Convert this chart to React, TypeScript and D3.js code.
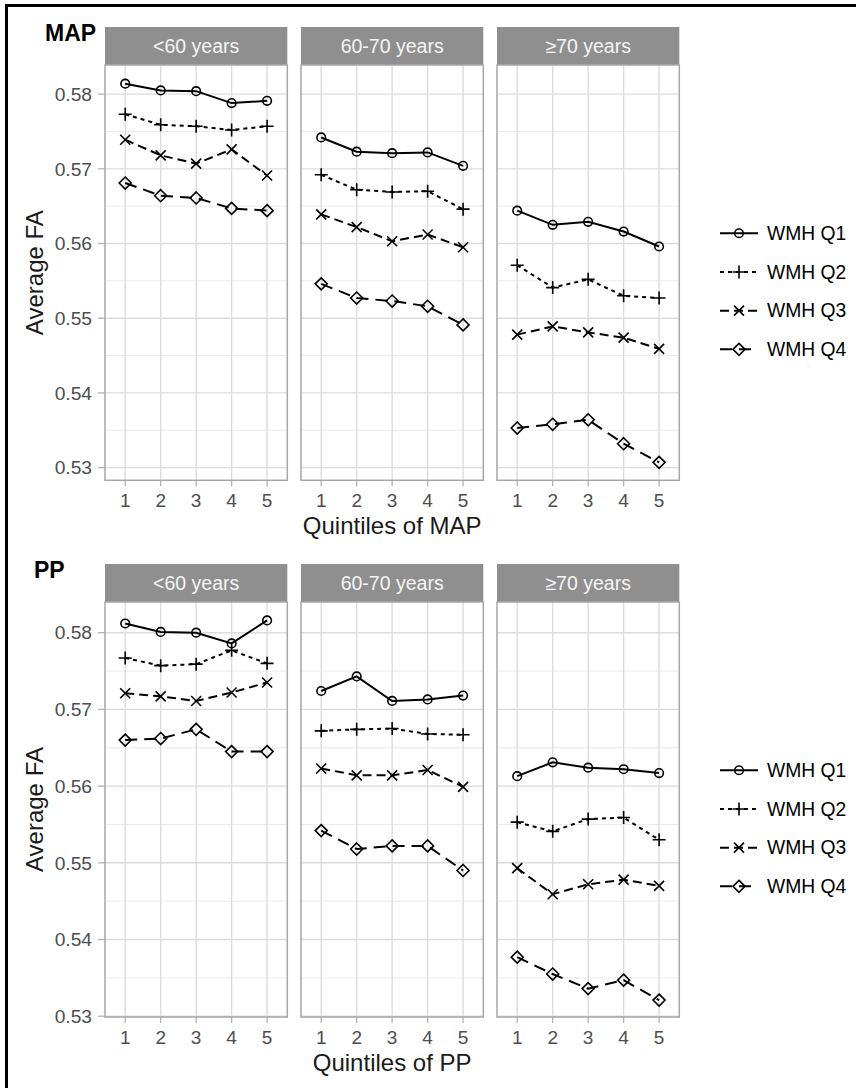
import React from "react";
import * as d3 from "d3";

const ageGroups = ["<60 years", "60-70 years", "≥70 years"];
const quintiles = [1, 2, 3, 4, 5];
const wmhLabels = ["WMH Q1", "WMH Q2", "WMH Q3", "WMH Q4"];
const yTicks = [0.53, 0.54, 0.55, 0.56, 0.57, 0.58];
const yMinor = [0.535, 0.545, 0.555, 0.565, 0.575];

// MAP, one row per WMH quartile
const mapUnder60 = [
  [0.5814, 0.5805, 0.5804, 0.5788, 0.5791],
  [0.5773, 0.5759, 0.5757, 0.5752, 0.5757],
  [0.5739, 0.5718, 0.5707, 0.5726, 0.5691],
  [0.5681, 0.5664, 0.5661, 0.5647, 0.5644]
];
const map60to70 = [
  [0.5742, 0.5723, 0.5721, 0.5722, 0.5704],
  [0.5692, 0.5672, 0.5669, 0.567, 0.5646],
  [0.5639, 0.5622, 0.5603, 0.5612, 0.5595],
  [0.5546, 0.5527, 0.5523, 0.5516, 0.5491]
];
const mapOver70 = [
  [0.5644, 0.5625, 0.5629, 0.5616, 0.5596],
  [0.5571, 0.5541, 0.5552, 0.553, 0.5527],
  [0.5478, 0.5489, 0.5481, 0.5474, 0.5459],
  [0.5353, 0.5358, 0.5364, 0.5332, 0.5307]
];

// PP
const ppUnder60 = [
  [0.5812, 0.5801, 0.58, 0.5786, 0.5816],
  [0.5767, 0.5757, 0.5759, 0.5777, 0.576],
  [0.5721, 0.5717, 0.5711, 0.5722, 0.5735],
  [0.566, 0.5662, 0.5674, 0.5645, 0.5645]
];
const pp60to70 = [
  [0.5724, 0.5743, 0.5711, 0.5713, 0.5718],
  [0.5672, 0.5674, 0.5675, 0.5668, 0.5667],
  [0.5623, 0.5614, 0.5614, 0.5621, 0.5599],
  [0.5542, 0.5518, 0.5522, 0.5522, 0.549]
];
const ppOver70 = [
  [0.5613, 0.5631, 0.5624, 0.5622, 0.5617],
  [0.5553, 0.5541, 0.5557, 0.5559, 0.553],
  [0.5493, 0.5459, 0.5472, 0.5478, 0.547],
  [0.5377, 0.5355, 0.5336, 0.5347, 0.5321]
];

const FONT = "'Liberation Sans', Arial, sans-serif";
const dashes = [null, "4,4", "9,5", "12,7"];

const panelX0 = 105;
const panelW = 182.3;
const panelGap = 13.7;

function Marker({ kind, x, y }: { kind: number; x: number; y: number }) {
  const common = { fill: "none", stroke: "#000", strokeWidth: 1.6 };
  if (kind === 0) return <circle cx={x} cy={y} r={4.3} {...common} />;
  if (kind === 1)
    return <path d={`M${x - 6.5},${y}H${x + 6.5}M${x},${y - 6.5}V${y + 6.5}`} {...common} />;
  if (kind === 2)
    return (
      <path d={`M${x - 5},${y - 5}L${x + 5},${y + 5}M${x - 5},${y + 5}L${x + 5},${y - 5}`} {...common} />
    );
  return <path d={`M${x},${y - 6}L${x + 6},${y}L${x},${y + 6}L${x - 6},${y}Z`} {...common} />;
}

function Block({
  title, titleX, top, bottom, domain, groups, xTitle, legendMid
}: {
  title: string; titleX: number; top: number; bottom: number; domain: [number, number];
  groups: number[][][]; xTitle: string; legendMid: number;
}) {
  const stripH = 38;
  const plotTop = top + stripH;
  const y = d3.scaleLinear().domain(domain).range([bottom, plotTop]);
  const midY = (plotTop + bottom) / 2;
  const panelsMid = panelX0 + (3 * panelW + 2 * panelGap) / 2;

  return (
    <g fontFamily={FONT}>
      <text x={titleX} y={top + 13.7} fontSize={23} fontWeight="bold" fill="#000">{title}</text>
      <text transform={`translate(43,${midY}) rotate(-90)`} textAnchor="middle" fontSize={24} fill="#1a1a1a">
        Average FA
      </text>
      {yTicks.map(t => (
        <g key={t}>
          <line x1={98} x2={panelX0} y1={y(t)} y2={y(t)} stroke="#b3b3b3" strokeWidth={1.3} />
          <text x={92} y={y(t) + 6.8} textAnchor="end" fontSize={19.2} fill="#4d4d4d">{t.toFixed(2)}</text>
        </g>
      ))}
      {groups.map((rows, gi) => {
        const px = panelX0 + gi * (panelW + panelGap);
        const x = d3.scaleLinear().domain([0.43, 5.57]).range([px, px + panelW]);
        const line = d3.line<number>().x((_, i) => x(quintiles[i])).y(v => y(v));
        return (
          <g key={gi}>
            <rect x={px} y={top} width={panelW} height={stripH} fill="#8f8f8f" />
            <text x={px + panelW / 2} y={top + stripH / 2 + 7} textAnchor="middle" fontSize={19.5} fill="#f5f5f5">
              {ageGroups[gi]}
            </text>
            <rect x={px} y={plotTop} width={panelW} height={bottom - plotTop} fill="#fff" />
            {yMinor.map(t => (
              <line key={t} x1={px} x2={px + panelW} y1={y(t)} y2={y(t)} stroke="#ebebeb" strokeWidth={1} />
            ))}
            {yTicks.map(t => (
              <line key={t} x1={px} x2={px + panelW} y1={y(t)} y2={y(t)} stroke="#dcdcdc" strokeWidth={1.4} />
            ))}
            {quintiles.map(q => (
              <g key={q}>
                <line x1={x(q)} x2={x(q)} y1={plotTop} y2={bottom} stroke="#dcdcdc" strokeWidth={1.4} />
                <line x1={x(q)} x2={x(q)} y1={bottom} y2={bottom + 6} stroke="#b3b3b3" strokeWidth={1.3} />
                <text x={x(q)} y={bottom + 26.5} textAnchor="middle" fontSize={19} fill="#4d4d4d">{q}</text>
              </g>
            ))}
            <rect x={px} y={plotTop} width={panelW} height={bottom - plotTop} fill="none" stroke="#a6a6a6" strokeWidth={1.5} />
            {rows.map((vals, si) => (
              <g key={si}>
                <path d={line(vals) || ""} fill="none" stroke="#000" strokeWidth={2}
                  strokeDasharray={dashes[si] || undefined} />
                {vals.map((v, i) => <Marker key={i} kind={si} x={x(quintiles[i])} y={y(v)} />)}
              </g>
            ))}
          </g>
        );
      })}
      <text x={panelsMid} y={bottom + 54} textAnchor="middle" fontSize={24} fill="#1a1a1a">{xTitle}</text>
      {wmhLabels.map((lab, i) => {
        const ly = legendMid + (i - 1.5) * 38.7;
        return (
          <g key={lab}>
            <line x1={720} x2={758} y1={ly} y2={ly} stroke="#000" strokeWidth={2}
              strokeDasharray={dashes[i] || undefined} />
            <Marker kind={i} x={739} y={ly} />
            <text x={767} y={ly + 6.8} fontSize={19.3} fill="#000">{lab}</text>
          </g>
        );
      })}
    </g>
  );
}

export default function App() {
  return (
    <svg width={856} height={1088} style={{ position: "absolute", left: 0, top: 0, background: "#fff" }}>
      <rect x={0} y={0} width={856} height={1088} fill="#fff" />
      <Block title="MAP" titleX={45} top={27} bottom={480.3} domain={[0.5283, 0.5839]}
        groups={[mapUnder60, map60to70, mapOver70]} xTitle="Quintiles of MAP" legendMid={291.3} />
      <Block title="PP" titleX={34} top={564} bottom={1017} domain={[0.5299, 0.5840]}
        groups={[ppUnder60, pp60to70, ppOver70]} xTitle="Quintiles of PP" legendMid={828.3} />
      <path d="M6.5,1100V5.5H860" fill="none" stroke="#000" strokeWidth={3} />
    </svg>
  );
}
